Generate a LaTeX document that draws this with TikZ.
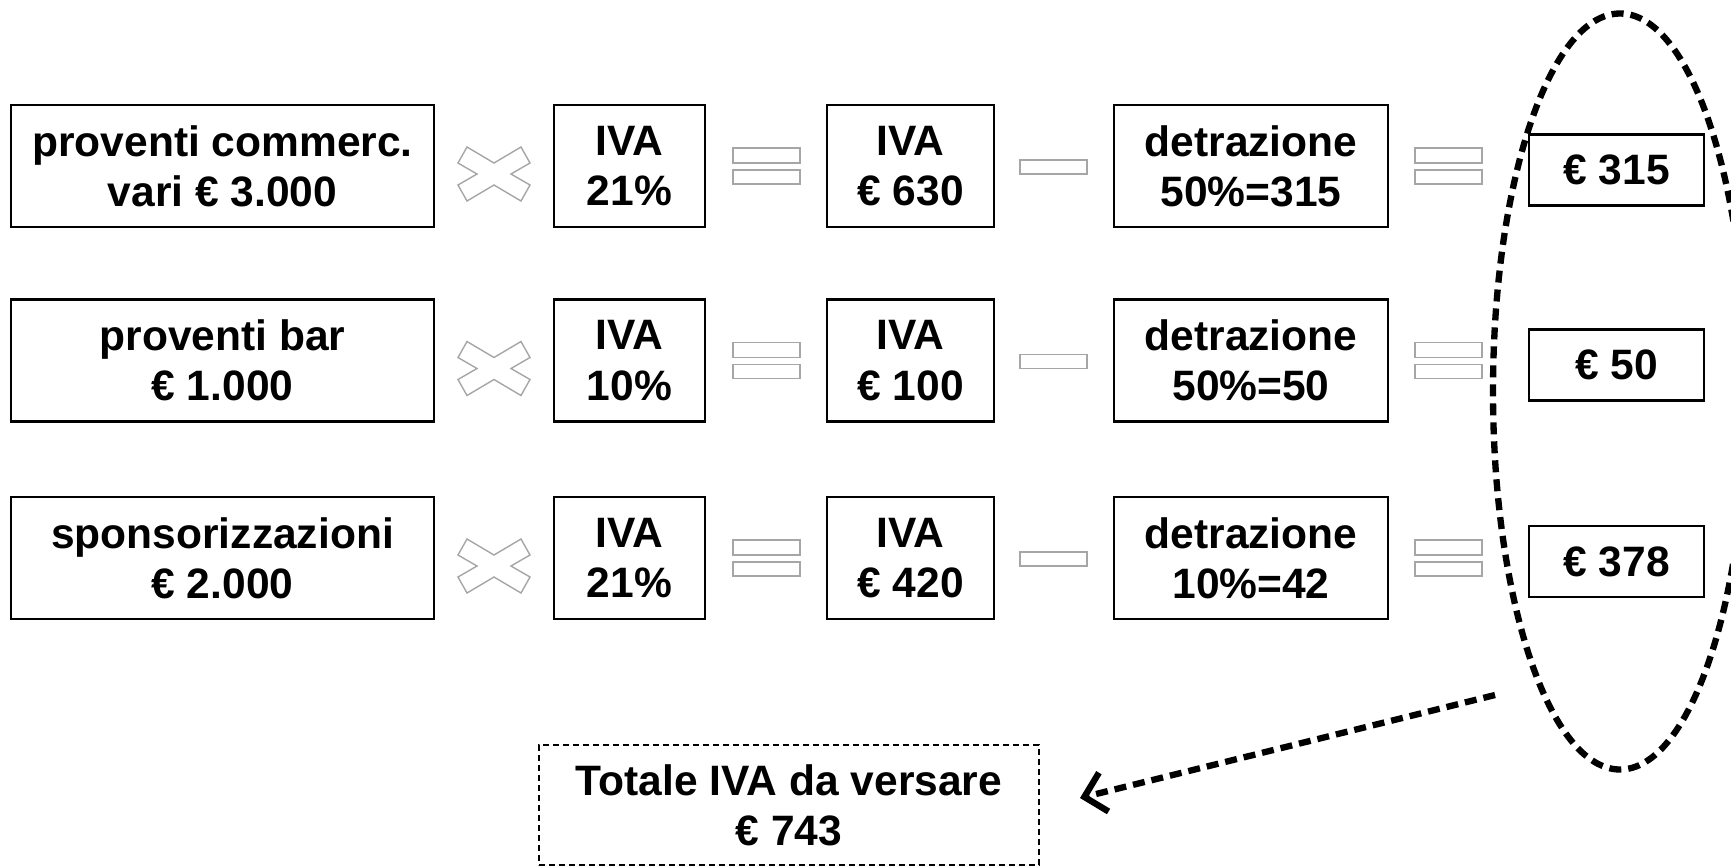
\documentclass[tikz,border=0pt]{standalone}
\usepackage{fontspec}
\setmainfont{Liberation Sans}
\usetikzlibrary{arrows.meta,calc,positioning,shapes.geometric}

\begin{document}
\begin{tikzpicture}[>={Straight Barb[length=2mm,width=4mm]},
    box/.style={draw,line width=0.6pt,align=center,inner sep=0pt,
      minimum height=1.22cm,font=\fontsize{12.1}{14.3}\selectfont\bfseries},
    res/.style={box,minimum width=1.75cm,minimum height=0.71cm},
    opline/.style={draw=gray!70,line width=0.4pt},
    bigdash/.style={line width=1.8pt,dash pattern=on 1.2mm off 0.7mm}]
  \useasboundingbox (0,0) rectangle (17.31,-8.65);
  \clip (0,0) rectangle (17.31,-8.65);

  % first row
  \node[box,minimum width=4.23cm] (prov1) at (2.225,-1.66) {proventi commerc.\\vari € 3.000};
  \node[box,minimum width=1.51cm] (rate1) at (6.295,-1.66) {IVA\\21\%};
  \node[box,minimum width=1.67cm] (iva1) at (9.105,-1.66) {IVA\\€ 630};
  \node[box,minimum width=2.74cm] (detr1) at (12.51,-1.66) {detrazione\\50\%=315};
  \node[res] (net1) at (16.165,-1.70) {€ 315};

  % second row
  \node[box,minimum width=4.23cm] (prov2) at (2.225,-3.605) {proventi bar\\€ 1.000};
  \node[box,minimum width=1.51cm] (rate2) at (6.295,-3.605) {IVA\\10\%};
  \node[box,minimum width=1.67cm] (iva2) at (9.105,-3.605) {IVA\\€ 100};
  \node[box,minimum width=2.74cm] (detr2) at (12.51,-3.605) {detrazione\\50\%=50};
  \node[res] (net2) at (16.165,-3.65) {€ 50};

  % third row
  \node[box,minimum width=4.23cm] (prov3) at (2.225,-5.58) {sponsorizzazioni\\€ 2.000};
  \node[box,minimum width=1.51cm] (rate3) at (6.295,-5.58) {IVA\\21\%};
  \node[box,minimum width=1.67cm] (iva3) at (9.105,-5.58) {IVA\\€ 420};
  \node[box,minimum width=2.74cm] (detr3) at (12.51,-5.58) {detrazione\\10\%=42};
  \node[res] (net3) at (16.165,-5.615) {€ 378};

  % operators between the boxes
  \foreach \y in {-1.66,-3.605,-5.58} {
    \draw[opline,shift={(4.94,\y-0.08)}] (-0.27,0.27) -- (0,0.11) -- (0.27,0.27)
      -- (0.36,0.11) -- (0.17,0) -- (0.36,-0.11) -- (0.27,-0.27) -- (0,-0.11)
      -- (-0.27,-0.27) -- (-0.36,-0.11) -- (-0.17,0) -- (-0.36,0.11) -- cycle;
    \foreach \x in {7.33,14.15} {
      \draw[opline] (\x,\y+0.18) rectangle (\x+0.67,\y+0.03);
      \draw[opline] (\x,\y-0.04) rectangle (\x+0.67,\y-0.18);
    }
    \draw[opline] (10.20,\y+0.06) rectangle (10.87,\y-0.08);
  }

  % group of the results
  \node[draw,ellipse,inner sep=0pt,minimum width=2.54cm,minimum height=7.56cm,
    bigdash] (grp) at (16.20,-3.915) {};

  \node[box,dash pattern=on 0.6mm off 0.4mm,line width=0.5pt,minimum width=5.0cm,
    minimum height=1.2cm] (tot) at (7.89,-8.05) {Totale IVA da versare\\€ 743};

  \coordinate (arrS) at (14.95,-6.95);
  \coordinate (arrE) at (10.80,-7.98);
  \draw[->,bigdash] (arrS) -- (arrE);
\end{tikzpicture}
\end{document}
